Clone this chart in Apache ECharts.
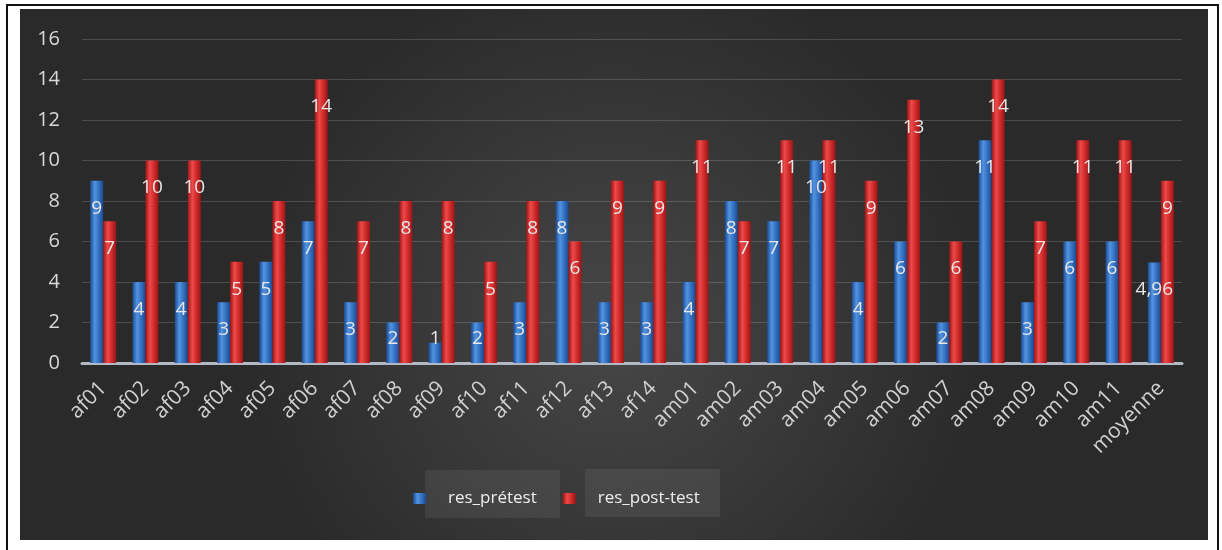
<!DOCTYPE html>
<html>
  <head>
    <meta charset="UTF-8" />
    <title></title>
    <script src="https://cdn.jsdelivr.net/npm/echarts@6/dist/echarts.min.js"></script>
    <style>
      html, body { margin: 0; padding: 0; background: #fff; }
    </style>
  </head>
  <body>
    <div id="main"></div>
    <script>
      const width = 1222;
      const height = 550;
      const main = document.getElementById('main');
      main.style.width = `${width}px`;
      main.style.height = `${height}px`;

      const categories = [
        'af01', 'af02', 'af03', 'af04', 'af05', 'af06', 'af07', 'af08', 'af09',
        'af10', 'af11', 'af12', 'af13', 'af14', 'am01', 'am02', 'am03', 'am04',
        'am05', 'am06', 'am07', 'am08', 'am09', 'am10', 'am11', 'moyenne'
      ];
      const preTest = [9, 4, 4, 3, 5, 7, 3, 2, 1, 2, 3, 8, 3, 3, 4, 8, 7, 10, 4, 6, 2, 11, 3, 6, 6, 4.96];
      const postTest = [7, 10, 10, 5, 8, 14, 7, 8, 8, 5, 8, 6, 9, 9, 11, 7, 11, 11, 9, 13, 6, 14, 7, 11, 11, 9];
      const yTicks = { min: 0, max: 16, interval: 2 };

      const font = 'Open Sans';

      const cyl = (edge, mid, light) =>
        new echarts.graphic.LinearGradient(0, 0, 1, 0, [
          { offset: 0, color: edge },
          { offset: 0.35, color: light },
          { offset: 0.6, color: mid },
          { offset: 1, color: edge },
        ]);

      const labelOpt = {
        show: true,
        position: 'insideTop',
        distance: 18,
        color: '#e6e6e6',
        fontSize: 19,
        fontFamily: font,
        formatter: (p) => String(p.value).replace('.', ','),
      };

      // short bars: label sits just above the axis, like Excel does
      const withLabels = (values) =>
        values.map((v) =>
          v <= 2
            ? { value: v, label: { position: 'insideBottom', distance: 15 } }
            : v
        );

      // spreadsheet cell lines behind the chart
      const sheetLines = [];
      [58, 217, 375, 535, 693, 853, 1012, 1172].forEach((x) => {
        sheetLines.push({
          type: 'line', z: 0,
          shape: { x1: x, y1: 540, x2: x, y2: 550 },
          style: { stroke: '#d4d4d4', lineWidth: 1 },
        });
      });

      const myChart = echarts.init(main);
      myChart.setOption({
        backgroundColor: '#ffffff',
        animation: false,
        graphic: sheetLines.concat([
          {
            type: 'rect', z: 0,
            shape: { x: 7, y: 5, width: 1211, height: 570 },
            style: { fill: '#ffffff', stroke: '#111', lineWidth: 2 },
          },
          {
            type: 'rect', z: 0,
            shape: { x: 20, y: 9, width: 1188, height: 531 },
            style: {
              fill: new echarts.graphic.RadialGradient(0.5, 0.6, 0.7, [
                { offset: 0, color: '#474747' },
                { offset: 1, color: '#2a2a2a' },
              ]),
            },
          },
          {
            type: 'rect', z: 1,
            shape: { x: 425, y: 470, width: 135, height: 48 },
            style: { fill: 'rgba(255,255,255,0.07)' },
          },
          {
            type: 'rect', z: 1,
            shape: { x: 585, y: 469, width: 135, height: 48 },
            style: { fill: 'rgba(255,255,255,0.07)' },
          },
        ]),
        legend: {
          left: 408,
          top: 485,
          itemWidth: 13,
          itemHeight: 11,
          itemGap: 26,
          icon: 'rect',
          textStyle: {
            color: '#eeeeee',
            fontSize: 17,
            fontFamily: font,
            padding: [0, 0, 0, 17],
          },
          data: ['res_prétest', 'res_post-test'],
        },
        grid: { left: 82, right: 40, top: 39, bottom: 187 },
        xAxis: {
          type: 'category',
          data: categories,
          axisLine: { lineStyle: { color: '#b4b8c4', width: 3 } },
          axisTick: { show: false },
          axisLabel: {
            rotate: 45,
            interval: 0,
            margin: 22,
            color: '#d0d0d0',
            fontSize: 21,
            fontFamily: font,
          },
        },
        yAxis: {
          type: 'value',
          min: yTicks.min,
          max: yTicks.max,
          interval: yTicks.interval,
          axisLine: { show: false },
          axisTick: { show: false },
          splitLine: { lineStyle: { color: 'rgba(255,255,255,0.16)', width: 1 } },
          axisLabel: {
            margin: 22,
            color: '#d8d8d8',
            fontSize: 20,
            fontFamily: font,
          },
        },
        series: [
          {
            name: 'res_prétest',
            type: 'bar',
            data: withLabels(preTest),
            barWidth: 13,
            barGap: '0%',
            itemStyle: { color: cyl('#1b4a92', '#3a78c8', '#5294e0') },
            label: labelOpt,
          },
          {
            name: 'res_post-test',
            type: 'bar',
            data: withLabels(postTest),
            barWidth: 13,
            itemStyle: { color: cyl('#9c1515', '#d63030', '#ee4a4a') },
            label: labelOpt,
          },
        ],
      });
    </script>
  </body>
</html>
